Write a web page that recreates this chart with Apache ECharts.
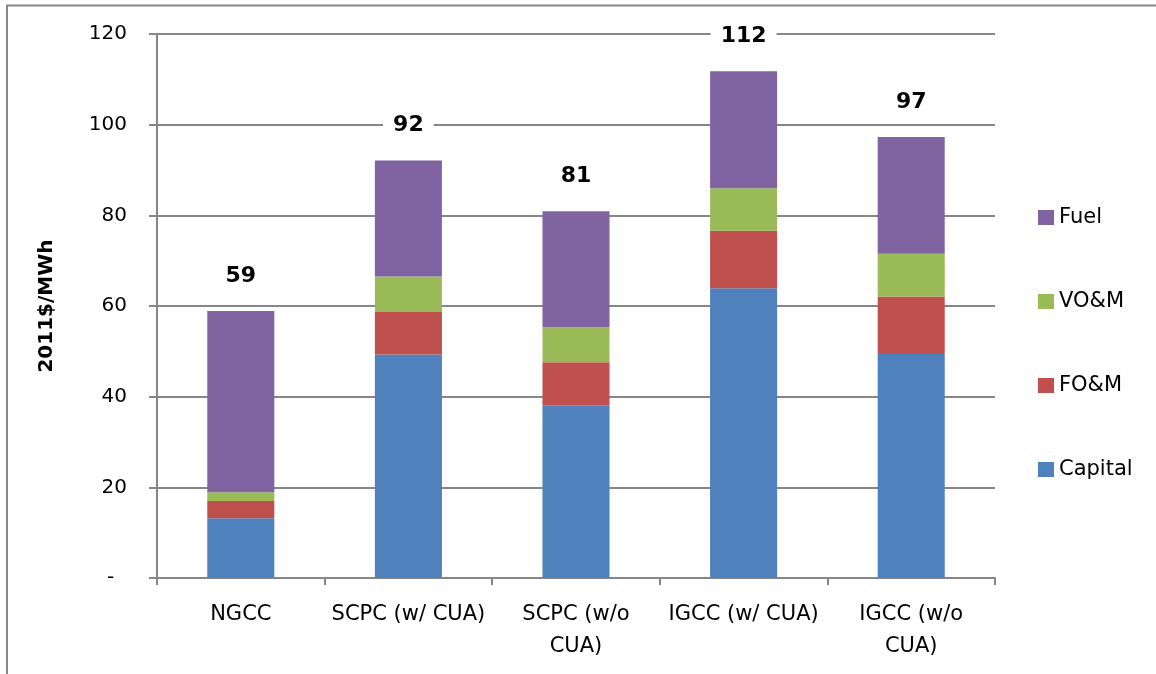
<!DOCTYPE html>
<html>
<head>
<meta charset="utf-8">
<script src="https://cdn.jsdelivr.net/npm/echarts@6/dist/echarts.min.js"></script>
<style>html,body{margin:0;padding:0;background:#fff}#c{width:1156px;height:674px}</style>
</head>
<body>
<div id="c"></div>
<script>
const categories = ['NGCC', 'SCPC (w/ CUA)', 'SCPC (w/o\nCUA)', 'IGCC (w/ CUA)', 'IGCC (w/o\nCUA)'];
const capital = [13.2, 49.3, 38.1, 63.9, 49.4];
const fom = [3.8, 9.4, 9.5, 12.7, 12.7];
const vom = [1.9, 7.8, 7.7, 9.4, 9.4];
const fuel = [40.0, 25.6, 25.6, 25.8, 25.8];
const totals = [59, 92, 81, 112, 97];
const yTicks = [0, 20, 40, 60, 80, 100, 120];

const FONT = 'DejaVu Sans';
const chart = echarts.init(document.getElementById('c'), null, {renderer: 'canvas'});
const barW = '40%';
function s(name, data, color, extra) {
  return Object.assign({
    name: name, type: 'bar', stack: 'total', data: data, barWidth: barW,
    itemStyle: {color: color}, emphasis: {disabled: true}
  }, extra || {});
}
chart.setOption({
  animation: false,
  graphic: [{
    type: 'polyline', silent: true,
    shape: {points: [[7, 700], [7, 5.5], [1160, 5.5]]},
    style: {stroke: '#888', lineWidth: 2, fill: null}
  }],
  grid: {left: 157, right: 161, top: 34, bottom: 96},
  legend: {
    orient: 'vertical', left: 1038, top: 207, padding: 0,
    itemWidth: 16, itemHeight: 15, itemGap: 63, itemTextGap: 6,
    icon: 'rect',
    data: ['Fuel', 'VO&M', 'FO&M', 'Capital'],
    textStyle: {fontFamily: FONT, fontSize: 21, color: '#000'}
  },
  xAxis: {
    type: 'category', data: categories,
    axisLine: {lineStyle: {color: '#868686', width: 2}},
    axisTick: {show: true, length: 7, lineStyle: {color: '#868686', width: 2}},
    axisLabel: {fontFamily: FONT, fontSize: 21, color: '#000', margin: 21, lineHeight: 32, interval: 0}
  },
  yAxis: {
    type: 'value', min: 0, max: 120, interval: 20,
    name: '2011$/MWh', nameLocation: 'middle', nameGap: 100, nameRotate: 90,
    nameTextStyle: {fontFamily: FONT, fontSize: 20, fontWeight: 'bold', color: '#000'},
    axisLine: {show: true, lineStyle: {color: '#868686', width: 2}},
    axisTick: {show: true, inside: false, length: 8, lineStyle: {color: '#868686', width: 2}},
    splitLine: {lineStyle: {color: '#868686', width: 2}},
    axisLabel: {
      fontFamily: FONT, fontSize: 20, color: '#000', margin: 30,
      formatter: v => (v === 0 ? '-  ' : String(v))
    }
  },
  series: [
    s('Capital', capital, '#4F81BD'),
    s('FO&M', fom, '#C0504D'),
    s('VO&M', vom, '#9BBB59'),
    s('Fuel', fuel, '#8064A2', {
      label: {
        show: true, position: 'top', distance: 21,
        formatter: p => String(totals[p.dataIndex]),
        fontFamily: FONT, fontSize: 22, fontWeight: 'bold', color: '#000',
        backgroundColor: '#fff', padding: [3, 10]
      }
    })
  ]
});
</script>
</body>
</html>
